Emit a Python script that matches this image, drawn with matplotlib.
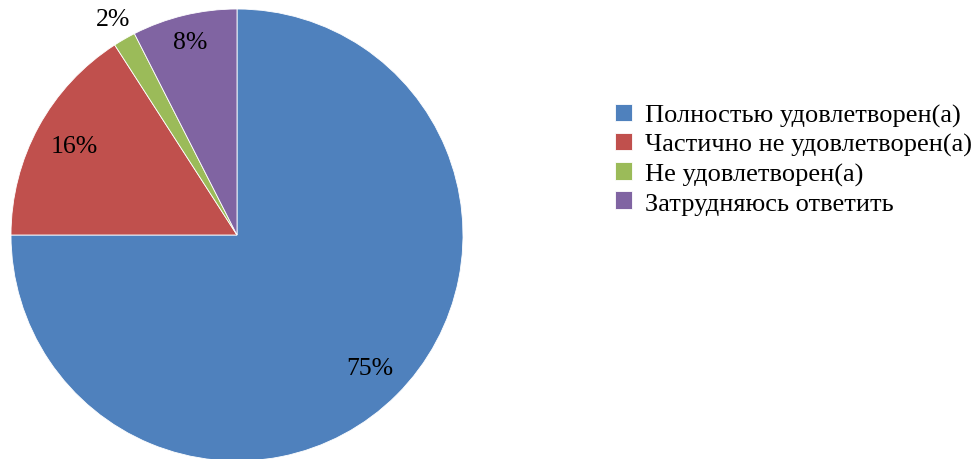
import matplotlib
matplotlib.use("Agg")
import matplotlib.pyplot as plt
import numpy as np

categories = ["Полностью удовлетворен(а)", "Частично не удовлетворен(а)",
              "Не удовлетворен(а)", "Затрудняюсь ответить"]
values = [75.0, 15.9, 1.6, 7.5]
labels = ["75%", "16%", "2%", "8%"]
colors = ["#4F81BD", "#C0504D", "#9BBB59", "#8064A2"]
label_dist = [0.83, 0.82, 1.1, 0.88]

plt.rcParams['font.family'] = ['Liberation Serif', 'DejaVu Serif']

W, H = 976, 460
fig = plt.figure(figsize=(W / 100, H / 100), dpi=100)
cx, cy, r = 237, 236, 226
ax = fig.add_axes([(cx - r) / W, (H - cy - r) / H, 2 * r / W, 2 * r / H])
ax.set_aspect('equal')
ax.axis('off')

wedges, _ = ax.pie(values, colors=colors, startangle=90, counterclock=False,
                   radius=1, center=(0, 0),
                   wedgeprops=dict(linewidth=0.6, edgecolor='white'))
ax.set_xlim(-1, 1)
ax.set_ylim(-1, 1)

total = sum(values)
start = 90.0
for v, lab, d in zip(values, labels, label_dist):
    span = 360.0 * v / total
    mid = np.deg2rad(start - span / 2)
    ax.text(d * np.cos(mid), d * np.sin(mid), lab, ha='center', va='center',
            fontsize=18.5, color='black')
    start -= span

fig.legend(wedges, categories, loc='upper left',
           bbox_to_anchor=(604 / W, 1 - 94 / H), frameon=False,
           fontsize=19, handlelength=0.65, handleheight=0.65,
           handletextpad=0.5, labelspacing=0.22, borderaxespad=0)

fig.savefig("out.png", dpi=100)
